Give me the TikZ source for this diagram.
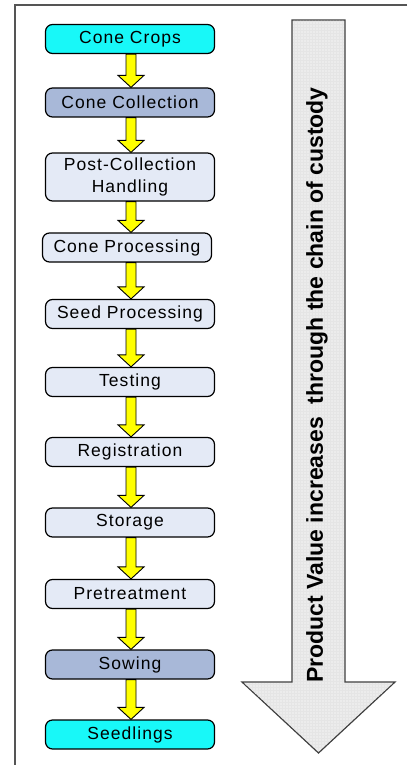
\documentclass[tikz,border=0pt]{standalone}
\usepackage{fontspec}
\setmainfont{Liberation Sans}
\newfontfamily\stagefont[LetterSpace=6]{Liberation Sans}
\usetikzlibrary{calc,patterns}

\definecolor{endcyan}{RGB}{24,248,248}
\definecolor{midblue}{RGB}{168,184,216}
\definecolor{paleblue}{RGB}{228,234,246}
\definecolor{framegray}{RGB}{85,85,85}
\definecolor{flowyellow}{RGB}{255,255,0}
\definecolor{bandgray}{RGB}{236,236,236}

\tikzset{
  stage/.style={draw=black, line width=1.2pt, rounded corners=7pt,
    minimum width=169pt, minimum height=29pt, inner sep=0pt,
    align=center, font=\stagefont\fontsize{17.5}{22}\selectfont},
  endstage/.style={stage, fill=endcyan},
  keystage/.style={stage, fill=midblue},
  plainstage/.style={stage, fill=paleblue},
  flowarr/.style={draw=black, line width=0.9pt, fill=flowyellow, line join=miter},
  valuearrow/.style={draw=black!75, line width=1.2pt, fill=bandgray},
}

% yellow block arrow on the flow spine, from the bottom of one stage to the top of the next
\newcommand\stagearrow[2]{%
  \draw[flowarr] let \p1=(#1.south), \p2=(#2.north), \p3=(spine) in
    (\x3-5pt,\y1) -- (\x3+5pt,\y1) -- (\x3+5pt,\y2+12pt) -- (\x3+13pt,\y2+12pt)
    -- (\x3,\y2) -- (\x3-13pt,\y2+12pt) -- (\x3-5pt,\y2+12pt) -- cycle;}

\begin{document}
\begin{tikzpicture}[x=1pt,y=-1pt]
\useasboundingbox (0,0) rectangle (407,765);
\fill[white] (0,0) rectangle (407,765);

% outer frame (runs off the right and bottom edges)
\draw[framegray, line width=2pt] (407,5) -- (15,5) -- (15,765);

% large value arrow
\draw[valuearrow] (292,20) -- (345,20) -- (345,682) -- (395,682) -- (318.5,753)
  -- (242,682) -- (292,682) -- cycle;
\fill[pattern=grid, pattern color=black!10] (293,21) -- (344,21) -- (344,683)
  -- (393,683) -- (318.5,751) -- (244,683) -- (293,683) -- cycle;
\node[rotate=90, font=\bfseries\fontsize{23}{26}\selectfont] (value) at (317,385)
  {Product Value increases\ \ through the chain of custody};

% stages
\coordinate (spine) at (131,0);
\node[endstage]   (crops)    at (130,39)    {Cone Crops};
\node[keystage]   (collect)  at (130,102.5) {Cone Collection};
\node[plainstage, minimum height=48pt] (handle) at (130,177) {Post-Collection\\Handling};
\node[plainstage] (coneproc) at (127,247.5) {Cone Processing};
\node[plainstage] (seedproc) at (130,314)   {Seed Processing};
\node[plainstage] (testing)  at (130,382)   {Testing};
\node[plainstage] (register) at (130,452)   {Registration};
\node[plainstage] (storage)  at (130,522.5) {Storage};
\node[plainstage] (pretreat) at (130,594)   {Pretreatment};
\node[keystage]   (sowing)   at (130,664.5) {Sowing};
\node[endstage]   (seedling) at (130,734.5) {Seedlings};

% flow between stages
\stagearrow{crops}{collect}
\stagearrow{collect}{handle}
\stagearrow{handle}{coneproc}
\stagearrow{coneproc}{seedproc}
\stagearrow{seedproc}{testing}
\stagearrow{testing}{register}
\stagearrow{register}{storage}
\stagearrow{storage}{pretreat}
\stagearrow{pretreat}{sowing}
\stagearrow{sowing}{seedling}
\end{tikzpicture}
\end{document}
